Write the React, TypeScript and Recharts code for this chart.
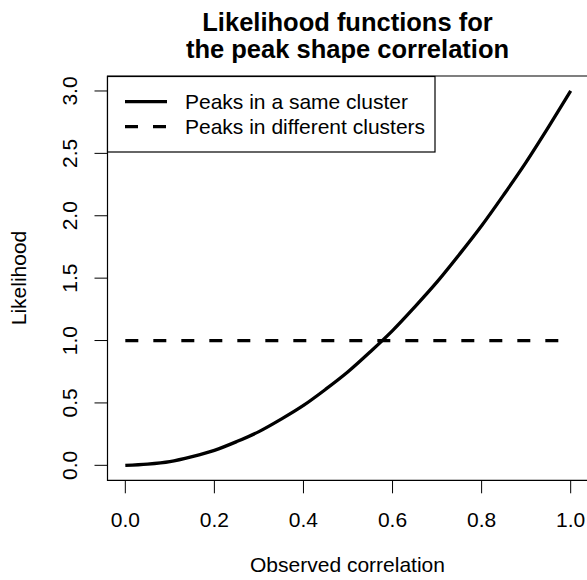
import React from "react";
import { LineChart, Line, XAxis, YAxis, ReferenceArea } from "recharts";

const xValues = [0, 0.05, 0.1, 0.15, 0.2, 0.25, 0.3, 0.35, 0.4, 0.45, 0.5, 0.55, 0.6, 0.65, 0.7, 0.75, 0.8, 0.85, 0.9, 0.95, 1.0];
const sameCluster = [0, 0.01, 0.03, 0.07, 0.12, 0.19, 0.27, 0.37, 0.48, 0.61, 0.75, 0.91, 1.08, 1.27, 1.47, 1.69, 1.92, 2.17, 2.43, 2.71, 3.0];
const differentClusters = [1, 1, 1, 1, 1, 1, 1, 1, 1, 1, 1, 1, 1, 1, 1, 1, 1, 1, 1, 1, 1];
const xTicks = [0, 0.2, 0.4, 0.6, 0.8, 1.0];
const yTicks = [0, 0.5, 1.0, 1.5, 2.0, 2.5, 3.0];
const seriesNames = ["Peaks in a same cluster", "Peaks in different clusters"];
const titleLines = ["Likelihood functions for", "the peak shape correlation"];
const xLabel = "Observed correlation";
const yLabel = "Likelihood";

const data = xValues.map((x, i) => ({ x, same: sameCluster[i], diff: differentClusters[i] }));

const FONT = '"Liberation Sans", Arial, Helvetica, sans-serif';
const DASH = "13 15";

const XTick = (p: any) => (
  <text x={p.x} y={p.y + 34} textAnchor="middle" fontFamily={FONT} fontSize={21} fill="#000">
    {Number(p.payload.value).toFixed(1)}
  </text>
);

const YTick = (p: any) => {
  const cx = p.x - 17;
  return (
    <text x={cx} y={p.y} textAnchor="middle" transform={`rotate(-90, ${cx}, ${p.y})`} fontFamily={FONT} fontSize={21} fill="#000">
      {Number(p.payload.value).toFixed(1)}
    </text>
  );
};

export default function App() {
  return (
    <div style={{ position: "absolute", left: 0, top: 0, width: 587, height: 580, overflow: "hidden", background: "#fff" }}>
      <LineChart width={590} height={580} data={data} margin={{ top: 76, right: 1.5, bottom: 0, left: 0 }}>
        <XAxis
          dataKey="x"
          type="number"
          domain={[-0.04, 1.04]}
          ticks={xTicks}
          allowDataOverflow
          axisLine={false}
          tickLine={{ stroke: "#000", strokeWidth: 1 }}
          tickSize={13}
          tickMargin={0}
          height={99.7}
          tick={<XTick />}
        />
        <YAxis
          type="number"
          domain={[-0.12, 3.12]}
          ticks={yTicks}
          allowDataOverflow
          axisLine={false}
          tickLine={{ stroke: "#000", strokeWidth: 1 }}
          tickSize={13}
          tickMargin={0}
          width={107.5}
          tick={<YTick />}
        />
        <ReferenceArea x1={-0.04} x2={1.04} y1={-0.12} y2={3.12} fill="none" fillOpacity={0} stroke="#000" strokeWidth={1.2} ifOverflow="visible" />
        <Line dataKey="diff" type="linear" stroke="#000" strokeWidth={3.3} strokeDasharray={DASH} dot={false} isAnimationActive={false} />
        <Line dataKey="same" type="monotone" stroke="#000" strokeWidth={3.3} dot={false} isAnimationActive={false} />
      </LineChart>
      <svg width={587} height={580} style={{ position: "absolute", left: 0, top: 0, pointerEvents: "none" }}>
        {titleLines.map((t, i) => (
          <text key={t} x={347.5} y={31 + i * 26.5} textAnchor="middle" fontFamily={FONT} fontWeight="bold" fontSize={25.5} fill="#000">
            {t}
          </text>
        ))}
        <text x={347.5} y={572} textAnchor="middle" fontFamily={FONT} fontSize={21} fill="#000">{xLabel}</text>
        <text x={25.5} y={278} textAnchor="middle" transform="rotate(-90, 25.5, 278)" fontFamily={FONT} fontSize={21} fill="#000">{yLabel}</text>
        <rect x={107.5} y={76.5} width={327.5} height={75.5} fill="#fff" stroke="#000" strokeWidth={1.2} />
        {seriesNames.map((name, i) => (
          <g key={name}>
            <line x1={125} x2={167} y1={101.7 + i * 25} y2={101.7 + i * 25} stroke="#000" strokeWidth={3.3} strokeDasharray={i === 1 ? DASH : undefined} />
            <text x={185} y={108.5 + i * 25} fontFamily={FONT} fontSize={21} fill="#000">{name}</text>
          </g>
        ))}
      </svg>
    </div>
  );
}
